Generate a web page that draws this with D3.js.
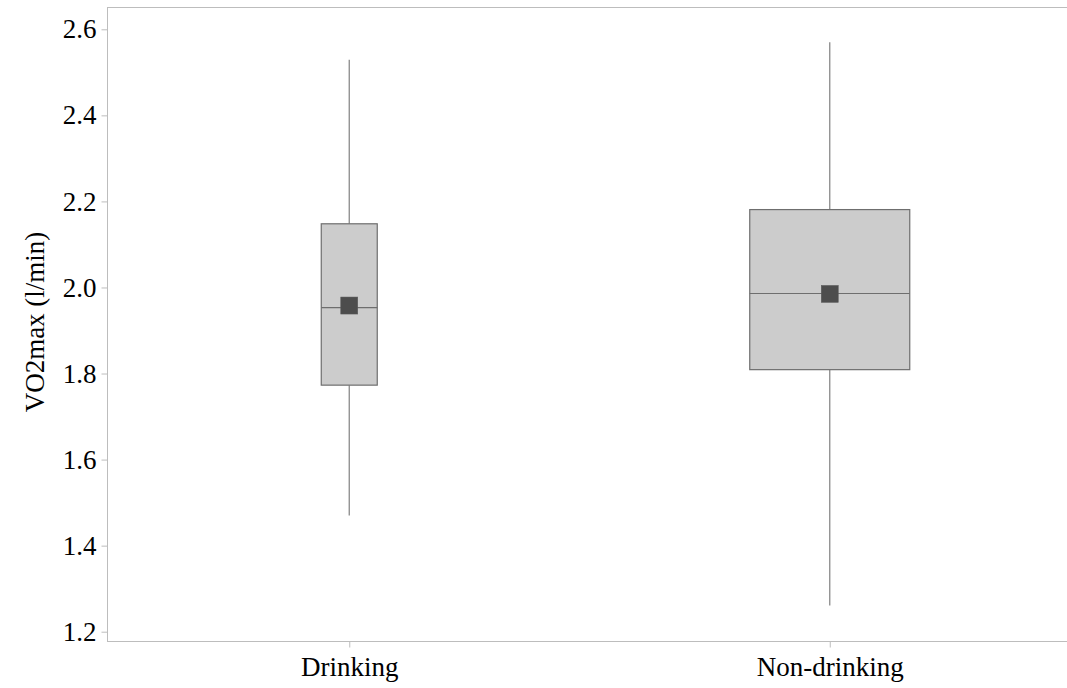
<!DOCTYPE html>
<html>
<head>
<meta charset="utf-8">
<script src="https://cdn.jsdelivr.net/npm/d3@7/dist/d3.min.js"></script>
<style>
  html, body { margin: 0; padding: 0; background: #fff; }
  svg { display: block; }
</style>
</head>
<body>
<svg id="chart" width="1067" height="688"></svg>
<script>
// Groups and their box-plot summaries (VO2max, l/min)
const categories = ["Drinking", "Non-drinking"];
const whiskerLow  = [1.470, 1.261];
const q1          = [1.773, 1.809];
const median      = [1.953, 1.986];
const q3          = [2.148, 2.181];
const whiskerHigh = [2.529, 2.570];
const mean        = [1.958, 1.985];
const yTicks      = [1.2, 1.4, 1.6, 1.8, 2.0, 2.2, 2.4, 2.6];
const yTitle      = "VO2max (l/min)";

const FONT = '"Liberation Serif", "DejaVu Serif", serif';
const FS = 27;

const svg = d3.select("#chart");
const plot = { left: 107.5, right: 1067.5, top: 7.5, bottom: 641.5 };

const x = d3.scalePoint()
  .domain(categories)
  .range([109, 1070])
  .padding(0.5);

const y = d3.scaleLinear()
  .domain([1.2, 2.6])
  .range([631.7, 29.3]);

// box widths by group
const boxWidth = { "Drinking": 56, "Non-drinking": 160 };

// frame
svg.append("rect")
  .attr("x", plot.left).attr("y", plot.top)
  .attr("width", plot.right - plot.left)
  .attr("height", plot.bottom - plot.top)
  .attr("fill", "none")
  .attr("stroke", "#bdbdbd")
  .attr("stroke-width", 1);

// y axis
const yAxis = d3.axisLeft(y)
  .tickValues(yTicks)
  .tickFormat(d3.format(".1f"))
  .tickSize(6)
  .tickPadding(5);
const gy = svg.append("g")
  .attr("transform", `translate(${plot.left},0)`)
  .call(yAxis)
  .attr("font-family", FONT)
  .attr("font-size", FS);
gy.select(".domain").remove();
gy.selectAll(".tick line").attr("stroke", "#bdbdbd");
gy.selectAll(".tick text").attr("fill", "#000");

// x axis
const xAxis = d3.axisBottom(x).tickSize(6).tickPadding(9);
const gx = svg.append("g")
  .attr("transform", `translate(0,${plot.bottom})`)
  .call(xAxis)
  .attr("font-family", FONT)
  .attr("font-size", FS);
gx.select(".domain").remove();
gx.selectAll(".tick line").attr("stroke", "#bdbdbd");
gx.selectAll(".tick text").attr("fill", "#000");

// y title
svg.append("text")
  .attr("transform", `translate(44,322) rotate(-90)`)
  .attr("text-anchor", "middle")
  .attr("font-family", FONT)
  .attr("font-size", FS)
  .attr("fill", "#000")
  .text(yTitle);

// boxes
const groups = categories.map((c, i) => ({
  c, lo: whiskerLow[i], q1: q1[i], med: median[i], q3: q3[i], hi: whiskerHigh[i], mean: mean[i]
}));

const g = svg.append("g").selectAll("g").data(groups).join("g");

// whiskers
g.append("line")
  .attr("x1", d => x(d.c)).attr("x2", d => x(d.c))
  .attr("y1", d => y(d.hi)).attr("y2", d => y(d.q3))
  .attr("stroke", "#8a8a8a").attr("stroke-width", 1.3);
g.append("line")
  .attr("x1", d => x(d.c)).attr("x2", d => x(d.c))
  .attr("y1", d => y(d.q1)).attr("y2", d => y(d.lo))
  .attr("stroke", "#8a8a8a").attr("stroke-width", 1.3);

// interquartile box
g.append("rect")
  .attr("x", d => x(d.c) - boxWidth[d.c] / 2)
  .attr("width", d => boxWidth[d.c])
  .attr("y", d => y(d.q3))
  .attr("height", d => y(d.q1) - y(d.q3))
  .attr("fill", "#cccccc")
  .attr("stroke", "#6e6e6e")
  .attr("stroke-width", 1.2);

// median
g.append("line")
  .attr("x1", d => x(d.c) - boxWidth[d.c] / 2)
  .attr("x2", d => x(d.c) + boxWidth[d.c] / 2)
  .attr("y1", d => y(d.med)).attr("y2", d => y(d.med))
  .attr("stroke", "#6e6e6e").attr("stroke-width", 1.2);

// mean marker
const ms = 17;
g.append("rect")
  .attr("x", d => x(d.c) - ms / 2)
  .attr("y", d => y(d.mean) - ms / 2)
  .attr("width", ms).attr("height", ms)
  .attr("fill", "#4d4d4d")
  .attr("stroke", "#5a5a5a")
  .attr("stroke-width", 0.5);
</script>
</body>
</html>
